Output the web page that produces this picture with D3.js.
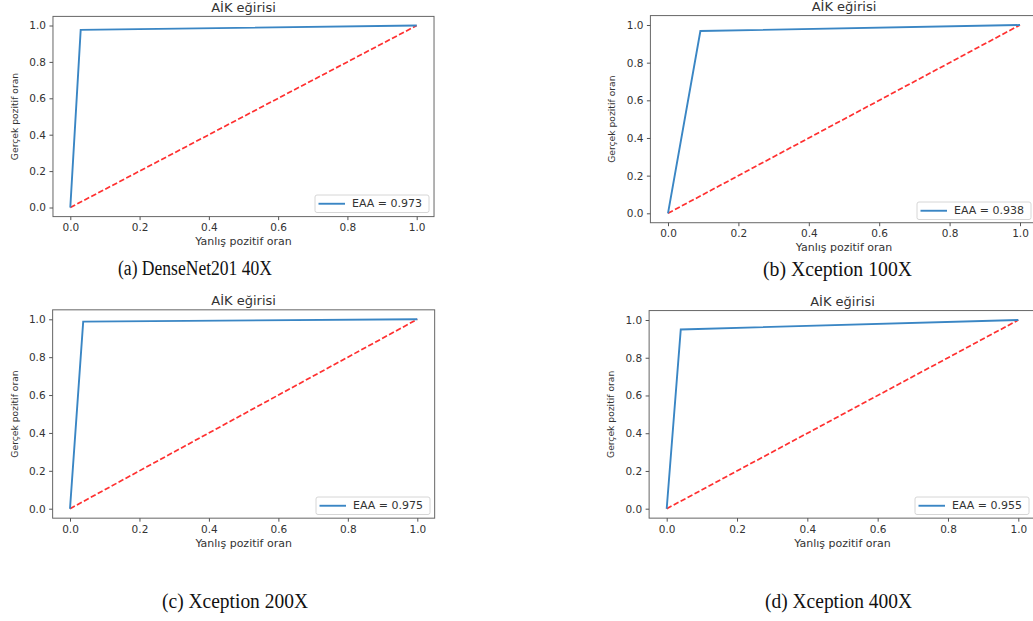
<!DOCTYPE html>
<html>
<head>
<meta charset="utf-8">
<script src="https://cdn.jsdelivr.net/npm/d3@7"></script>
<style>
  body { margin: 0; background: #fff; }
  svg text { font-family: 'DejaVu Sans', sans-serif; fill: #333; }
  .caption { font-family: 'Liberation Serif', 'Times New Roman', serif; fill: #111; }
</style>
</head>
<body>
<svg id="chart" width="1033" height="621"></svg>
<script>
// values
const captions = ['(a) DenseNet201 40X', '(b) Xception 100X', '(c) Xception 200X', '(d) Xception 400X'];
const aucValues = [0.973, 0.938, 0.975, 0.955];
const fprValues = [[0, 0.03, 1], [0, 0.092, 1], [0, 0.038, 1], [0, 0.04, 1]];
const tprValues = [[0, 0.976, 1], [0, 0.968, 1], [0, 0.988, 1], [0, 0.95, 1]];
const chanceLine = [0, 1];
const tickValues = [0, 0.2, 0.4, 0.6, 0.8, 1.0];
const titleText = 'AİK eğirisi';
const xLabelText = 'Yanlış pozitif oran';
const yLabelText = 'Gerçek pozitif oran';

// pixel placement of each panel (value 0 / value 1 on each axis)
const layout = [
  { x0: 70.3, x1: 416.7, y0: 207.5, y1: 25.5, legend: [315, 195], caption: [118, 275, 154] },
  { x0: 668, x1: 1020, y0: 213.3, y1: 25, legend: [917, 202], caption: [763, 276, 149] },
  { x0: 70, x1: 417.3, y0: 508.7, y1: 319.3, legend: [316, 497], caption: [162, 608, 146] },
  { x0: 666.7, x1: 1018.3, y0: 508.7, y1: 320, legend: [915, 497], caption: [765, 608, 147] },
];

const svg = d3.select('#chart');
const fmt = d3.format('.1f');

layout.forEach((L, i) => {
  const x = d3.scaleLinear().domain([0, 1]).range([L.x0, L.x1]);
  const y = d3.scaleLinear().domain([0, 1]).range([L.y0, L.y1]);
  const left = x(-0.05), right = x(1.05), top = y(1.05), bottom = y(-0.05);
  const g = svg.append('g').attr('class', 'panel');

  // curves
  const line = d3.line().x(d => x(d[0])).y(d => y(d[1]));
  g.append('path')
    .datum(d3.zip(chanceLine, chanceLine))
    .attr('d', line)
    .attr('fill', 'none')
    .attr('stroke', '#ff3030')
    .attr('stroke-width', 1.7)
    .attr('stroke-dasharray', '5.5,2.4');

  g.append('path')
    .datum(d3.zip(fprValues[i], tprValues[i]))
    .attr('d', line)
    .attr('fill', 'none')
    .attr('stroke', '#3a86c4')
    .attr('stroke-width', 1.9);

  // frame
  g.append('rect')
    .attr('x', left).attr('y', top)
    .attr('width', right - left).attr('height', bottom - top)
    .attr('fill', 'none').attr('stroke', '#666').attr('stroke-width', 1);

  // axes
  const xAxis = g.append('g')
    .attr('transform', `translate(0,${bottom})`)
    .call(d3.axisBottom(x).tickValues(tickValues).tickFormat(fmt).tickSize(3.5).tickPadding(3.5));
  const yAxis = g.append('g')
    .attr('transform', `translate(${left},0)`)
    .call(d3.axisLeft(y).tickValues(tickValues).tickFormat(fmt).tickSize(3.5).tickPadding(3.5));
  [xAxis, yAxis].forEach(a => {
    a.select('.domain').remove();
    a.selectAll('line').attr('stroke', '#555');
    a.selectAll('text')
      .style('font-family', "'DejaVu Sans', sans-serif")
      .style('font-size', '10.5px')
      .attr('fill', '#333');
  });

  // title + labels
  g.append('text')
    .attr('x', (left + right) / 2).attr('y', top - 4.5)
    .attr('text-anchor', 'middle')
    .style('font-size', '13px')
    .text(titleText);

  g.append('text')
    .attr('x', (left + right) / 2).attr('y', bottom + 28.5)
    .attr('text-anchor', 'middle')
    .style('font-size', '11px')
    .text(xLabelText);

  g.append('text')
    .attr('transform', `translate(${left - 38.5},${(top + bottom) / 2}) rotate(-90)`)
    .attr('text-anchor', 'middle')
    .attr('dominant-baseline', 'central')
    .style('font-size', '9.2px')
    .text(yLabelText);

  // legend
  const [lx, ly] = L.legend;
  const lg = g.append('g').attr('transform', `translate(${lx},${ly})`);
  lg.append('rect')
    .attr('width', 114).attr('height', 17.5).attr('rx', 2)
    .attr('fill', '#fff').attr('stroke', '#d6d6d6');
  lg.append('line')
    .attr('x1', 3.5).attr('x2', 30).attr('y1', 8.75).attr('y2', 8.75)
    .attr('stroke', '#3a86c4').attr('stroke-width', 1.9);
  lg.append('text')
    .attr('x', 37).attr('y', 8.75)
    .attr('dominant-baseline', 'central')
    .style('font-size', '11px')
    .text(`EAA = ${aucValues[i].toFixed(3)}`);

  // caption
  const [cx, cy, cw] = L.caption;
  svg.append('text')
    .attr('class', 'caption')
    .attr('x', cx).attr('y', cy)
    .attr('textLength', cw)
    .attr('lengthAdjust', 'spacingAndGlyphs')
    .style('font-size', '20px')
    .text(captions[i]);
});
</script>
</body>
</html>
